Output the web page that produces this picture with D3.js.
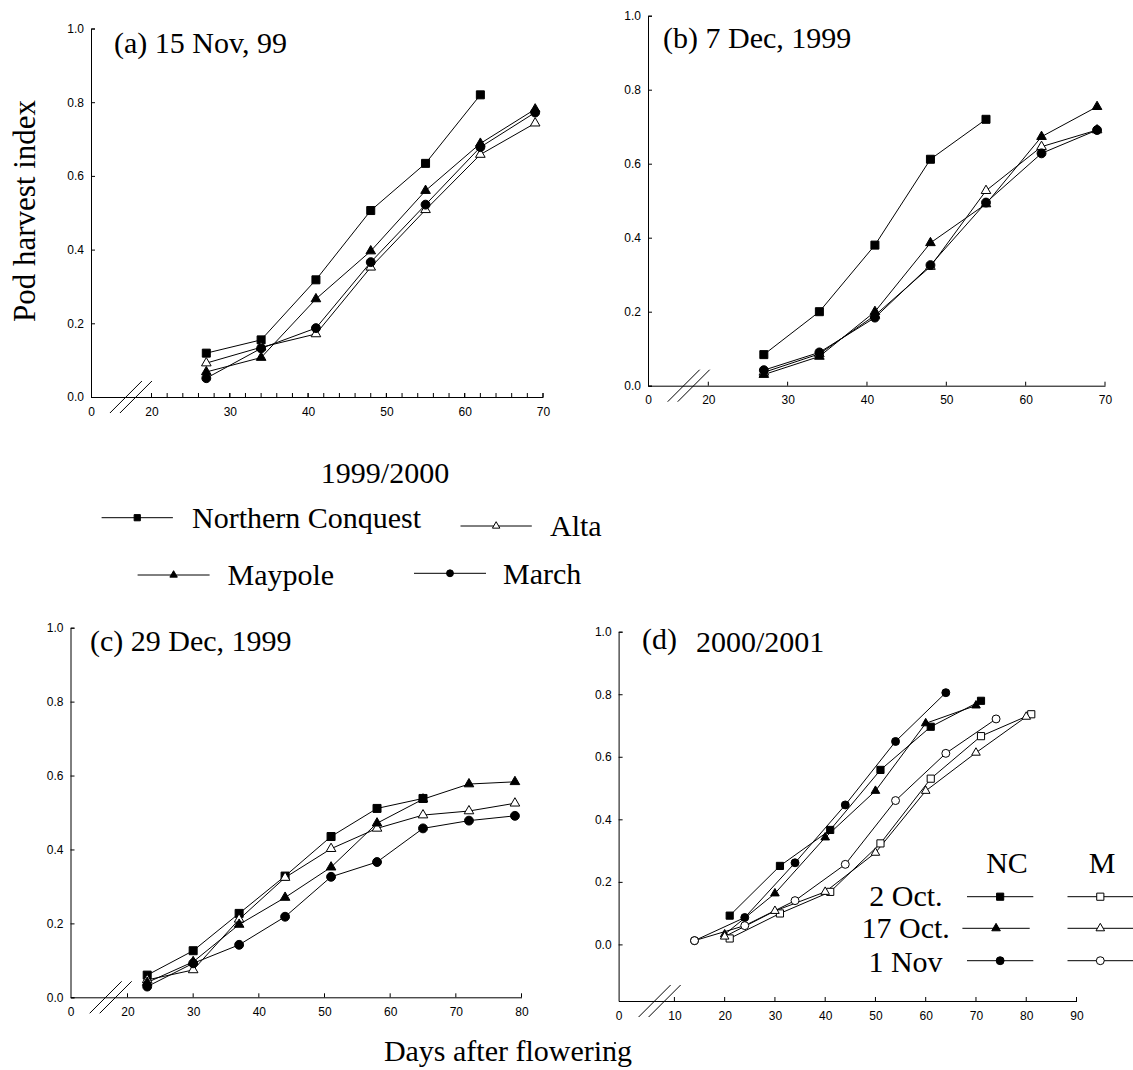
<!DOCTYPE html>
<html><head><meta charset="utf-8">
<script src="https://cdn.jsdelivr.net/npm/d3@7"></script>
<style>
body{margin:0;background:#fff;}
svg{display:block;}
.tick text{font-family:"Liberation Sans",Arial,sans-serif;font-size:12px;fill:#000;}
.serif{font-family:"Liberation Serif","Times New Roman",serif;fill:#000;}
</style></head>
<body>
<svg id="c" width="1133" height="1070"></svg>
<script>
// ---------- data ----------
const daysAB = [27,34,41,48,55,62,69];
const a_NC      = [0.119,0.155,0.318,0.506,0.634,0.820];
const a_Alta    = [0.092,0.135,0.171,0.352,0.508,0.658,0.743];
const a_Maypole = [0.068,0.107,0.266,0.396,0.560,0.688,0.781];
const a_March   = [0.051,0.132,0.187,0.366,0.522,0.678,0.772];

const b_NC      = [0.084,0.200,0.380,0.612,0.720];
const b_Alta    = [0.036,0.086,0.190,0.322,0.527,0.646,0.691];
const b_Maypole = [0.030,0.079,0.200,0.386,0.491,0.673,0.754];
const b_March   = [0.042,0.090,0.184,0.326,0.495,0.628,0.691];

const daysC = [23,30,37,44,51,58,65,72,79];
const c_NC      = [0.060,0.126,0.227,0.328,0.435,0.511,0.538];
const c_Alta    = [0.047,0.074,0.211,0.324,0.402,0.457,0.493,0.504,0.525];
const c_Maypole = [0.040,0.096,0.197,0.270,0.352,0.471,0.536,0.577,0.583];
const c_March   = [0.029,0.092,0.142,0.218,0.326,0.366,0.457,0.478,0.491];

const d_days2Oct  = [21,31,41,51,61,71,81];
const d_days17Oct = [20,30,40,50,60,70,80];
const d_days1Nov  = [14,24,34,44,54,64,74];
const d_NC_2Oct   = [0.092,0.251,0.366,0.558,0.696,0.779];
const d_NC_17Oct  = [0.032,0.163,0.342,0.491,0.707,0.764];
const d_NC_1Nov   = [0.012,0.086,0.261,0.446,0.649,0.805];
const d_M_2Oct    = [0.019,0.099,0.168,0.323,0.530,0.666,0.736];
const d_M_17Oct   = [0.025,0.107,0.168,0.293,0.491,0.613,0.728];
const d_M_1Nov    = [0.012,0.060,0.140,0.256,0.460,0.611,0.721];

const yTicks = [0,0.2,0.4,0.6,0.8,1.0];
const xTicksAB = [0,20,30,40,50,60,70];
const xMinorA = d3.range(20,71,2);
const xTicksC = [0,20,30,40,50,60,70,80];
const xTicksD = [0,10,20,30,40,50,60,70,80,90];

const varieties = ["Northern Conquest","Alta","Maypole","March"];
const sowings = ["2 Oct.","17 Oct.","1 Nov"];

// ---------- helpers ----------
const svg = d3.select("#c");
const SYM = {
  square: d3.symbol().type(d3.symbolSquare),
  triangle: d3.symbol().type(d3.symbolTriangle),
  circle: d3.symbol().type(d3.symbolCircle)
};
const SIZE = {square:64, triangle:40, circle:62};
function marker(g, shape, filled, x, y, scale){
  const s = scale||1;
  g.append("path")
   .attr("d", SYM[shape].size(SIZE[shape]*s)())
   .attr("transform",`translate(${x},${y})`)
   .attr("fill", filled?"#000":"#fff")
   .attr("stroke","#000").attr("stroke-width",1);
}

function panel(cfg){
  const g = svg.append("g");
  const x = d3.scaleLinear().domain(cfg.xDomain).range(cfg.xRange);
  const y = d3.scaleLinear().domain(cfg.yDomain).range(cfg.yRange);
  const x0 = cfg.xRange[0], y0 = cfg.yRange[0];
  // x axis
  const xa = g.append("g").attr("transform",`translate(0,${y0})`)
    .call(d3.axisBottom(x).tickValues(cfg.xTicks).tickSize(0).tickPadding(10).tickFormat(d3.format("d")));
  xa.select(".domain").attr("stroke","#000");
  xa.selectAll(".tick line").remove();
  // inside tick marks
  const tickVals = (cfg.xMinor||[]).concat(cfg.xTicks.filter(v=>v>cfg.xDomain[1]-0.001 && v!==0));
  g.selectAll(null).data(tickVals).enter().append("line")
    .attr("x1",d=>x(d)).attr("x2",d=>x(d)).attr("y1",y0).attr("y2",y0-4)
    .attr("stroke","#000");
  // y axis
  const ya = g.append("g").attr("transform",`translate(${x0},0)`)
    .call(d3.axisLeft(y).tickValues(yTicks).tickSize(-4).tickPadding(7).tickFormat(d3.format(".1f")));
  ya.select(".domain").attr("stroke","#000");
  ya.selectAll(".tick line").attr("stroke","#000");
  // axis break
  const bx = x(cfg.breakAt);
  [-5,5].forEach(o=>{
    g.append("line").attr("x1",bx+o-16).attr("y1",y0+16).attr("x2",bx+o+16).attr("y2",y0-16)
     .attr("stroke","#000").attr("stroke-width",1);
  });
  // series
  const line = d3.line().x(d=>x(d[0])).y(d=>y(d[1]));
  cfg.series.forEach(s=>{
    const pts = s.values.map((v,i)=>[s.days[i],v]);
    g.append("path").attr("d",line(pts)).attr("fill","none").attr("stroke","#000").attr("stroke-width",1);
  });
  cfg.series.forEach(s=>{
    s.values.forEach((v,i)=>marker(g,s.shape,s.filled,x(s.days[i]),y(v),cfg.mscale));
  });
  // title
  cfg.titles.forEach(t=>{
    g.append("text").attr("class","serif").attr("x",t.x).attr("y",t.y)
     .attr("font-size",t.size||30).text(t.text);
  });
  return g;
}

panel({
  xDomain:[0,20,70], xRange:[91,151.5,543], yDomain:[0,1], yRange:[397,28.5],
  xTicks:xTicksAB, xMinor:xMinorA, breakAt:13.2,
  titles:[{text:"(a) 15 Nov, 99", x:114, y:53}],
  series:[
    {days:daysAB, values:a_NC, shape:"square", filled:true},
    {days:daysAB, values:a_Alta, shape:"triangle", filled:false},
    {days:daysAB, values:a_Maypole, shape:"triangle", filled:true},
    {days:daysAB, values:a_March, shape:"circle", filled:true}
  ]
});
panel({
  xDomain:[0,20,70], xRange:[648,708.3,1105], yDomain:[0,1], yRange:[385.7,15.7],
  xTicks:xTicksAB, breakAt:13.5,
  titles:[{text:"(b) 7 Dec, 1999", x:663, y:48}],
  series:[
    {days:daysAB, values:b_NC, shape:"square", filled:true},
    {days:daysAB, values:b_Alta, shape:"triangle", filled:false},
    {days:daysAB, values:b_Maypole, shape:"triangle", filled:true},
    {days:daysAB, values:b_March, shape:"circle", filled:true}
  ]
});
panel({
  xDomain:[0,20,80], xRange:[70.5,127.5,521.5], yDomain:[0,1], yRange:[997.3,627.7],
  xTicks:xTicksC, breakAt:14.1,
  titles:[{text:"(c) 29 Dec, 1999", x:90, y:651}],
  series:[
    {days:daysC, values:c_NC, shape:"square", filled:true},
    {days:daysC, values:c_Alta, shape:"triangle", filled:false},
    {days:daysC, values:c_Maypole, shape:"triangle", filled:true},
    {days:daysC, values:c_March, shape:"circle", filled:true}
  ]
});
panel({
  xDomain:[0,10,90], xRange:[618.6,674.4,1076.5], yDomain:[-0.181,1], yRange:[1001,631.7],
  xTicks:xTicksD, breakAt:7.35, mscale:0.8,
  titles:[{text:"(d)", x:642, y:649},{text:"2000/2001", x:696, y:652}],
  series:[
    {days:d_days2Oct, values:d_NC_2Oct, shape:"square", filled:true},
    {days:d_days17Oct, values:d_NC_17Oct, shape:"triangle", filled:true},
    {days:d_days1Nov, values:d_NC_1Nov, shape:"circle", filled:true},
    {days:d_days2Oct, values:d_M_2Oct, shape:"square", filled:false},
    {days:d_days17Oct, values:d_M_17Oct, shape:"triangle", filled:false},
    {days:d_days1Nov, values:d_M_1Nov, shape:"circle", filled:false}
  ]
});
// small stray dot below panel (d), as in the reference
svg.append("circle").attr("cx",615).attr("cy",1043).attr("r",1.1).attr("fill","#000");

// ---------- axis titles ----------
svg.append("text").attr("class","serif").attr("font-size",31)
  .attr("text-anchor","middle").attr("transform","translate(35,211) rotate(-90)")
  .text("Pod harvest index");
svg.append("text").attr("class","serif").attr("font-size",30)
  .attr("text-anchor","middle").attr("x",508).attr("y",1061)
  .text("Days after flowering");

// ---------- legend 1999/2000 ----------
const lg = svg.append("g");
lg.append("text").attr("class","serif").attr("font-size",30).attr("text-anchor","middle")
  .attr("x",385).attr("y",483).text("1999/2000");
const legItems = [
  {name:varieties[0], shape:"square", filled:true, x1:101.6, x2:172.9, y:517.7, tx:192, ty:527.5},
  {name:varieties[1], shape:"triangle", filled:false, x1:460.5, x2:531.8, y:526, tx:550, ty:536},
  {name:varieties[2], shape:"triangle", filled:true, x1:137.6, x2:209.6, y:575, tx:227.5, ty:584.5},
  {name:varieties[3], shape:"circle", filled:true, x1:414, x2:486, y:573.3, tx:503, ty:583.5}
];
legItems.forEach(it=>{
  lg.append("line").attr("x1",it.x1).attr("x2",it.x2).attr("y1",it.y).attr("y2",it.y).attr("stroke","#000");
  marker(lg,it.shape,it.filled,(it.x1+it.x2)/2,it.y,0.6);
  lg.append("text").attr("class","serif").attr("font-size",30).attr("x",it.tx).attr("y",it.ty).text(it.name);
});

// ---------- legend (d) ----------
const ld = svg.append("g");
ld.append("text").attr("class","serif").attr("font-size",30).attr("text-anchor","middle").attr("x",1007).attr("y",873).text("NC");
ld.append("text").attr("class","serif").attr("font-size",30).attr("text-anchor","middle").attr("x",1102).attr("y",873).text("M");
const dShapes = ["square","triangle","circle"];
const dRows = [
  {tx:942.6, ty:906, y:896.7, nx1:967, nx2:1033.3},
  {tx:949.8, ty:938.3, y:928.3, nx1:962.4, nx2:1029.7},
  {tx:942.6, ty:971.7, y:960.7, nx1:967, nx2:1033.3}
];
sowings.forEach((s,i)=>{
  const r = dRows[i];
  ld.append("text").attr("class","serif").attr("font-size",30).attr("text-anchor","end").attr("x",r.tx).attr("y",r.ty).text(s);
  ld.append("line").attr("x1",r.nx1).attr("x2",r.nx2).attr("y1",r.y).attr("y2",r.y).attr("stroke","#000");
  marker(ld,dShapes[i],true,(r.nx1+r.nx2)/2,r.y,0.8);
  ld.append("line").attr("x1",1067.5).attr("x2",1133).attr("y1",r.y).attr("y2",r.y).attr("stroke","#000");
  marker(ld,dShapes[i],false,1100.3,r.y,0.8);
});
</script>
</body></html>
